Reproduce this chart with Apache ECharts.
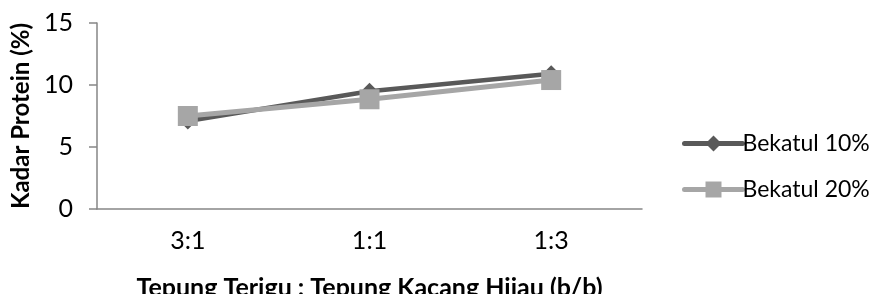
<!DOCTYPE html>
<html>
<head>
<meta charset="utf-8">
<script src="https://cdn.jsdelivr.net/npm/echarts@6/dist/echarts.min.js"></script>
<style>html,body{margin:0;padding:0;background:#fff}#c{width:876px;height:294px}</style>
</head>
<body>
<div id="c"></div>
<script>
const categories = ['3:1', '1:1', '1:3'];
const bekatul10 = [7.1, 9.5, 10.9];
const bekatul20 = [7.5, 8.85, 10.4];
const seriesNames = ['Bekatul 10%', 'Bekatul 20%'];
const yTicks = [0, 5, 10, 15];

const chart = echarts.init(document.getElementById('c'), null, {renderer: 'canvas'});
const font = 'Lato, "Open Sans", sans-serif';
chart.setOption({
  animation: false,
  textStyle: {fontFamily: font},
  grid: {left: 97, top: 23, width: 545, height: 186, outerBoundsMode: 'none', containLabel: false},
  xAxis: {
    type: 'category',
    data: categories,
    boundaryGap: true,
    axisLine: {lineStyle: {color: '#868686', width: 1.5}},
    axisTick: {show: false},
    axisLabel: {color: '#000', fontSize: 25, fontFamily: font, margin: 19},
    name: 'Tepung Terigu : Tepung Kacang Hijau (b/b)',
    nameLocation: 'middle',
    nameGap: 66,
    nameTextStyle: {color: '#000', fontSize: 25, fontWeight: 'bold', fontFamily: font}
  },
  yAxis: {
    type: 'value',
    min: yTicks[0], max: yTicks[yTicks.length - 1], interval: 5,
    axisLine: {show: true, lineStyle: {color: '#868686', width: 1.5}},
    axisTick: {show: true, length: 8, lineStyle: {color: '#868686', width: 1.5}},
    splitLine: {show: false},
    axisLabel: {color: '#000', fontSize: 25, fontFamily: font, margin: 24},
    name: 'Kadar Protein (%)',
    nameLocation: 'middle',
    nameGap: 64,
    nameTextStyle: {color: '#000', fontSize: 24, fontWeight: 'bold', fontFamily: font}
  },
  legend: {
    orient: 'vertical',
    left: 677, top: 127,
    itemWidth: 58, itemHeight: 20,
    itemGap: 23,
    lineStyle: {width: 5, cap: 'round'},
    textStyle: {color: '#000', fontSize: 23, fontFamily: font, padding: [0, 0, 0, -5]},
    data: seriesNames
  },
  series: [
    {
      name: seriesNames[0], type: 'line', data: bekatul10,
      symbol: 'diamond', symbolSize: 17,
      lineStyle: {color: '#595959', width: 4.5},
      itemStyle: {color: '#595959'},
      z: 2
    },
    {
      name: seriesNames[1], type: 'line', data: bekatul20,
      symbol: 'rect', symbolSize: 20,
      lineStyle: {color: '#a6a6a6', width: 5},
      itemStyle: {color: '#a6a6a6'},
      z: 3
    }
  ]
});
</script>
</body>
</html>
